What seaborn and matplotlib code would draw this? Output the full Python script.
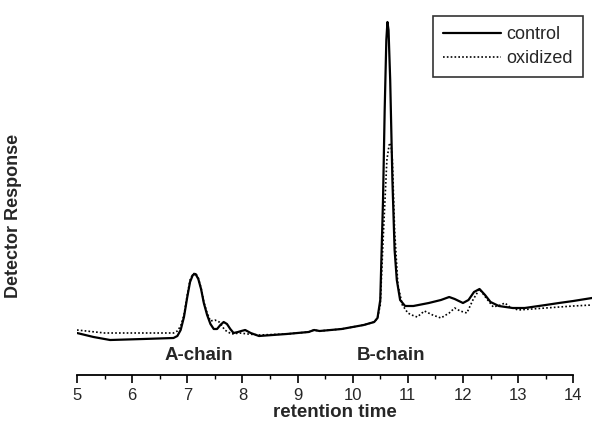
import matplotlib
matplotlib.use("Agg")
import matplotlib.pyplot as plt
import seaborn as sns

# ==========================================
# DATA
# ==========================================

control_time = [
    5.00, 5.15, 5.30, 5.60, 6.20, 6.75, 6.82, 6.88, 6.94, 7.00, 7.05, 7.10,
    7.15, 7.20, 7.25, 7.30, 7.36, 7.42, 7.48, 7.54, 7.60, 7.66, 7.72, 7.78,
    7.84, 7.92, 7.98, 8.05, 8.15, 8.30, 8.80, 9.20, 9.30, 9.40, 9.80, 10.20,
    10.39, 10.45, 10.50, 10.55, 10.58, 10.61, 10.63, 10.65, 10.68, 10.72,
    10.76, 10.80, 10.86, 10.95, 11.10, 11.38, 11.60, 11.75, 11.85, 12.00,
    12.10, 12.20, 12.30, 12.40, 12.50, 12.65, 12.90, 13.12, 13.50, 13.74,
    14.00, 14.34,
]
control_resp = [
    42, 40, 38, 35, 36, 37, 39, 45, 58, 78, 93, 100,
    101, 96, 86, 72, 60, 51, 46, 46, 50, 53, 51, 46,
    42, 43, 44, 45, 42, 39, 41, 43, 45, 44, 46, 50,
    53, 57, 75, 175, 265, 335, 353, 345, 295, 195,
    125, 95, 75, 69, 69, 72, 75, 78, 76, 72,
    75, 83, 86, 80, 73, 69, 67, 67, 70, 72,
    74, 77,
]

oxidized_time = [
    5.00, 5.50, 6.20, 6.75, 6.82, 6.88, 6.94, 7.00, 7.05, 7.10, 7.15, 7.20,
    7.25, 7.30, 7.36, 7.42, 7.50, 7.58, 7.68, 7.80, 7.95, 8.10, 8.30, 8.80,
    9.20, 9.30, 9.40, 9.80, 10.20, 10.39, 10.45, 10.50, 10.56, 10.62, 10.66,
    10.69, 10.72, 10.76, 10.82, 10.90, 11.00, 11.07, 11.17, 11.30, 11.45,
    11.60, 11.75, 11.85, 11.95, 12.07, 12.18, 12.30, 12.42, 12.55, 12.68,
    12.76, 12.85, 13.00, 13.50, 14.00, 14.34,
]
oxidized_resp = [
    45, 42, 42, 42, 44, 49, 60, 80, 95, 101,
    102, 97, 87, 73, 62, 54, 55, 53, 45, 41,
    42, 41, 40, 41, 43, 45, 44, 46, 50, 53,
    57, 70, 145, 215, 230, 232, 215, 145, 90, 70,
    62, 60, 58, 64, 60, 57, 62, 67, 64, 62,
    75, 86, 77, 68, 70, 72, 68, 65, 67, 69,
    70,
]

x_ticks = [5, 6, 7, 8, 9, 10, 11, 12, 13, 14]

# ==========================================
# PLOT
# ==========================================

sns.set_style("white")
plt.rcParams["font.family"] = ["Liberation Sans", "DejaVu Sans"]

fig = plt.figure(figsize=(5.99, 4.33), dpi=100)
ax = fig.add_axes([77 / 599, 1 - 375 / 433, (592 - 77) / 599, 370 / 433])

sns.lineplot(x=control_time, y=control_resp, ax=ax, color="black",
             linewidth=1.6, sort=False, label="control")
sns.lineplot(x=oxidized_time, y=oxidized_resp, ax=ax, color="black",
             linewidth=1.2, linestyle=(0, (1, 1.3)), sort=False,
             label="oxidized")

ax.set_xlim(5, 14.34)
ax.set_ylim(0, 370)

for side in ["top", "right", "left"]:
    ax.spines[side].set_visible(False)
ax.spines["bottom"].set_bounds(5, 14)
ax.spines["bottom"].set_color("black")
ax.spines["bottom"].set_linewidth(1.3)

ax.set_xticks(x_ticks)
ax.set_xticks([t + 0.5 for t in x_ticks[:-1]], minor=True)
ax.set_yticks([])
ax.tick_params(axis="x", which="major", direction="out", length=6,
               width=1.2, color="black", labelsize=12, pad=3, bottom=True)
ax.tick_params(axis="x", which="minor", direction="out", length=3,
               width=1.0, color="black", bottom=True)

ax.set_xlabel("retention time", fontsize=13.5, fontweight="bold", labelpad=1)
ax.set_ylabel("Detector Response", fontsize=13, fontweight="bold")
ax.yaxis.set_label_coords(-0.107, 0.43)

ax.text(7.2, 20, "A-chain", ha="center", va="center", fontsize=13.5,
        fontweight="bold")
ax.text(10.7, 20, "B-chain", ha="center", va="center", fontsize=13.5,
        fontweight="bold")

leg = ax.legend(loc="upper right", bbox_to_anchor=(583 / 599, 1 - 16 / 433),
                bbox_transform=fig.transFigure, fontsize=13, frameon=True,
                fancybox=False, edgecolor="black", handlelength=3.2,
                borderpad=0.55, labelspacing=0.4, handletextpad=0.3,
                borderaxespad=0)
leg.get_frame().set_linewidth(1.2)

plt.savefig("out.png", dpi=100)
